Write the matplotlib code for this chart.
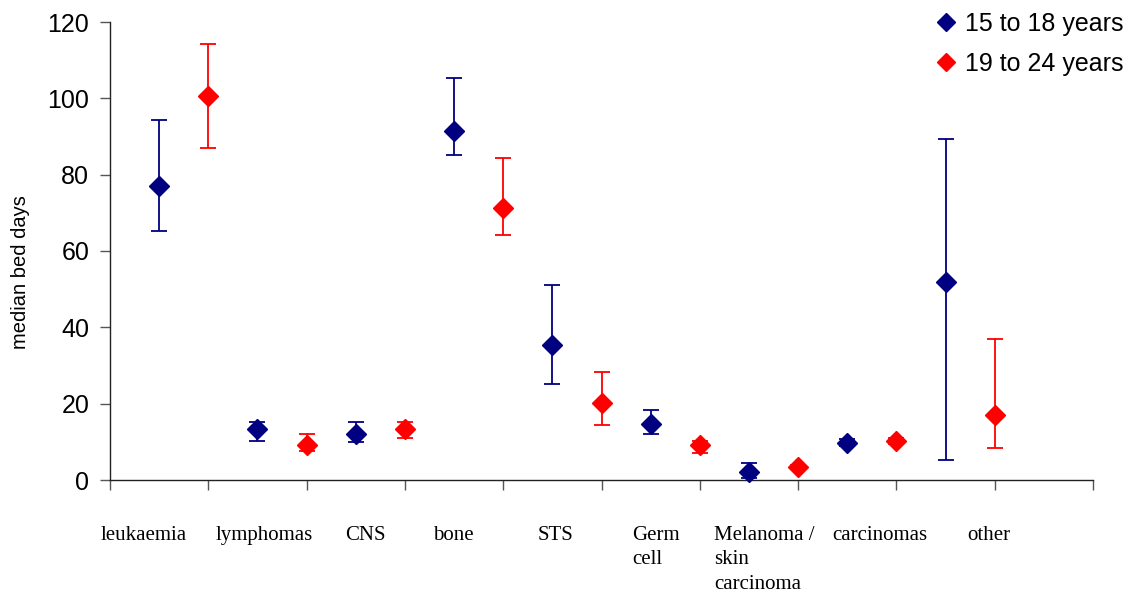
import numpy as np
import matplotlib.pyplot as plt
from matplotlib.lines import Line2D

# categories (the labels are drawn below the axis as free text)
categories = ['leukaemia', 'lymphomas', 'CNS', 'bone', 'STS', 'Germ\ncell',
              'Melanoma /\nskin\ncarcinoma', 'carcinomas', 'other']

# 15 to 18 years: median, lower, upper
young_med = [77.0, 13.4, 12.0, 91.4, 35.5, 14.8, 2.2, 9.8, 52.0]
young_low = [65.2, 10.2, 10.0, 85.1, 25.2, 12.1, 0.5, 8.8, 5.2]
young_high = [94.3, 15.2, 15.2, 105.3, 51.2, 18.3, 4.4, 10.8, 89.3]

# 19 to 24 years: median, lower, upper
old_med = [100.6, 9.2, 13.4, 71.3, 20.2, 9.3, 3.4, 10.2, 17.0]
old_low = [87.0, 7.5, 11.1, 64.2, 14.3, 7.1, 2.8, 9.4, 8.4]
old_high = [114.2, 12.1, 15.3, 84.4, 28.3, 10.2, 4.0, 11.0, 37.0]

# left edge of each category label, in x axis units (layout only)
label_x = [-0.2, 2.14, 4.78, 6.57, 8.71, 10.62, 12.29, 14.69, 17.45]

BLUE = '#000080'
RED = '#ff0000'

fig = plt.figure(figsize=(11.3, 5.93), dpi=100)
ax = fig.add_axes([110 / 1130, 1 - 480 / 593, 983 / 1130, 458 / 593])

idx = np.arange(len(categories))
xb = 2 * idx + 1
xr = 2 * idx + 2

def draw(x, med, low, high, color):
    med = np.array(med)
    err = [med - np.array(low), np.array(high) - med]
    ax.errorbar(x, med, yerr=err, fmt='D', color=color, ecolor=color,
                markersize=10, elinewidth=1.3, capsize=6, capthick=1.3,
                clip_on=False, zorder=3)

draw(xb, young_med, young_low, young_high, BLUE)
draw(xr, old_med, old_low, old_high, RED)

ax.set_xlim(0, 20)
ax.set_ylim(0, 120)
ax.set_xticks(np.arange(0, 21, 2))
ax.set_xticklabels([])
ax.set_yticks(np.arange(0, 121, 20))
ax.tick_params(axis='y', labelsize=18, length=7, width=1, color='#555555',
               direction='out', pad=8)
ax.tick_params(axis='x', length=7, width=1, color='#555555', direction='out')
for s in ['top', 'right']:
    ax.spines[s].set_visible(False)
for s in ['left', 'bottom']:
    ax.spines[s].set_linewidth(1)
    ax.spines[s].set_color('#222222')
for lab in ax.get_yticklabels():
    lab.set_family('Liberation Sans')

ax.set_ylabel('median bed days', fontsize=14.5, family='Liberation Sans')
ax.yaxis.set_label_coords(-0.081, 0.455)

for name, lx in zip(categories, label_x):
    ax.text(lx, -0.1, name, transform=ax.get_xaxis_transform(),
            ha='left', va='top', fontsize=15, family='Liberation Serif',
            linespacing=1.4)

handles = [Line2D([], [], marker='D', color=BLUE, ls='none', markersize=9),
           Line2D([], [], marker='D', color=RED, ls='none', markersize=9)]
fig.legend(handles, ['15 to 18 years', '19 to 24 years'], loc='upper right',
           bbox_to_anchor=(1126 / 1130, 1 - 9 / 593), frameon=False,
           prop={'family': 'Liberation Sans', 'size': 18},
           handlelength=0.8, handletextpad=0.35, labelspacing=0.65,
           borderpad=0.1, borderaxespad=0)

fig.savefig('out.png', dpi=100)
